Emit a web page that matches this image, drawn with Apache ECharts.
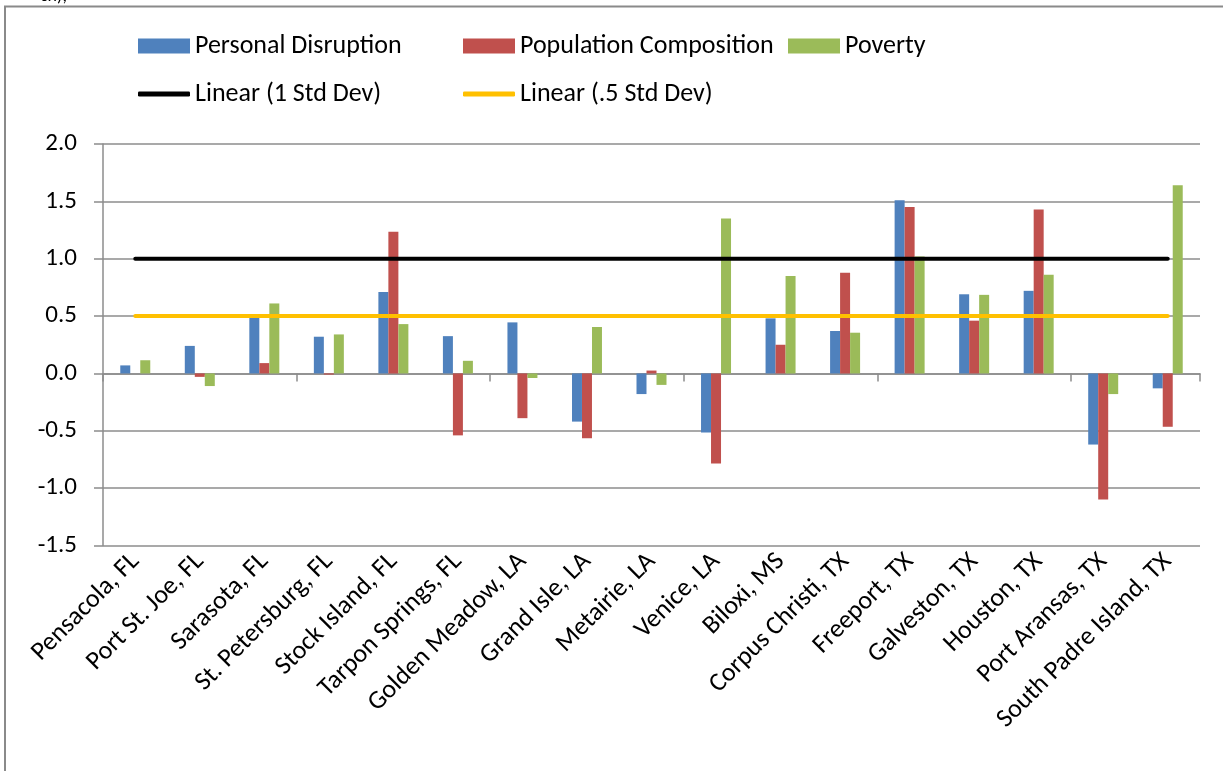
<!DOCTYPE html>
<html>
<head>
<meta charset="utf-8">
<script src="https://cdn.jsdelivr.net/npm/echarts@6/dist/echarts.min.js"></script>
<style>
html,body{margin:0;padding:0;background:#fff;}
#chart{width:1223px;height:771px;}
</style>
</head>
<body>
<div id="chart"></div>
<script>
const categories = ['Pensacola, FL','Port St. Joe, FL','Sarasota, FL','St. Petersburg, FL','Stock Island, FL','Tarpon Springs, FL','Golden Meadow, LA','Grand Isle, LA','Metairie, LA','Venice, LA','Biloxi, MS','Corpus Christi, TX','Freeport, TX','Galveston, TX','Houston, TX','Port Aransas, TX','South Padre Island, TX'];
const personalDisruption = [0.07,0.24,0.49,0.32,0.71,0.325,0.445,-0.42,-0.18,-0.515,0.48,0.37,1.51,0.69,0.72,-0.62,-0.13];
const populationComposition = [0,-0.03,0.09,-0.01,1.235,-0.54,-0.39,-0.565,0.025,-0.785,0.25,0.877,1.45,0.46,1.43,-1.10,-0.465];
const poverty = [0.115,-0.11,0.61,0.34,0.43,0.11,-0.04,0.405,-0.10,1.35,0.85,0.355,1.02,0.685,0.86,-0.18,1.64];
const linear1Std = [1,1,1,1,1,1,1,1,1,1,1,1,1,1,1,1,1];
const linearHalfStd = [0.5,0.5,0.5,0.5,0.5,0.5,0.5,0.5,0.5,0.5,0.5,0.5,0.5,0.5,0.5,0.5,0.5];
const yTicks = {min:-1.5, max:2.0, interval:0.5};

const FONT = 'Carlito, Lato, sans-serif';
const chart = echarts.init(document.getElementById('chart'), null, {renderer:'canvas'});
const legendText = {fontFamily:FONT, fontSize:26, color:'#000'};
function leg(name, left, top, icon, h){
  return {data:[name], left:left, top:top, icon:icon, itemWidth:52, itemHeight:h, itemGap:0, textStyle:legendText, selectedMode:false, padding:0};
}
chart.setOption({
  animation:false,
  backgroundColor:'#fff',
  legend:[
    leg('Personal Disruption',138,33,'rect',15),
    leg('Population Composition',463,33,'rect',15),
    leg('Poverty',788,33,'rect',15),
    leg('Linear (1 Std Dev)',138,81,'roundRect',5),
    leg('Linear (.5 Std Dev)',463,81,'roundRect',5)
  ],
  graphic:[
    {type:'polyline', shape:{points:[[5,771],[5,6.5],[1223,6.5]]}, style:{stroke:'#8a8a8a', lineWidth:2, fill:null}},
    {type:'text', left:40, top:-13, style:{text:'ch),', fontFamily:FONT, fontSize:18, fill:'#000'}}
  ],
  grid:{left:103, right:23, top:144, bottom:225.5, containLabel:false},
  xAxis:[
    {type:'category', data:categories, position:'bottom',
     axisLine:{onZero:true, lineStyle:{color:'#8c8c8c', width:1.5}},
     axisTick:{show:true, length:8, lineStyle:{color:'#8c8c8c', width:1.5}},
     axisLabel:{show:false}, splitLine:{show:false}},
    {type:'category', data:categories, position:'bottom',
     axisLine:{show:false, onZero:false}, axisTick:{show:false},
     axisLabel:{show:true, rotate:45, interval:0, margin:12, fontFamily:FONT, fontSize:26, color:'#000'},
     splitLine:{show:false}}
  ],
  yAxis:{type:'value', min:yTicks.min, max:yTicks.max, interval:yTicks.interval,
     axisLine:{show:true, lineStyle:{color:'#8c8c8c', width:1.5}},
     axisTick:{show:true, length:9, lineStyle:{color:'#8c8c8c', width:1.5}},
     splitLine:{show:true, lineStyle:{color:'#8c8c8c', width:1.5}},
     axisLabel:{margin:26, fontFamily:FONT, fontSize:25, color:'#000', formatter:v=>v.toFixed(1)}},
  series:[
    {name:'Personal Disruption', type:'bar', data:personalDisruption, barWidth:10, barGap:'0%', itemStyle:{color:'#4F81BD'}},
    {name:'Population Composition', type:'bar', data:populationComposition, barWidth:10, barGap:'0%', itemStyle:{color:'#C0504D'}},
    {name:'Poverty', type:'bar', data:poverty, barWidth:10, barGap:'0%', itemStyle:{color:'#9BBB59'}},
    {name:'Linear (1 Std Dev)', type:'line', data:linear1Std, symbol:'none', z:5, lineStyle:{color:'#000', width:4, cap:'round'}, itemStyle:{color:'#000'}},
    {name:'Linear (.5 Std Dev)', type:'line', data:linearHalfStd, symbol:'none', z:5, lineStyle:{color:'#FFC000', width:4, cap:'round'}, itemStyle:{color:'#FFC000'}}
  ]
});
</script>
</body>
</html>
